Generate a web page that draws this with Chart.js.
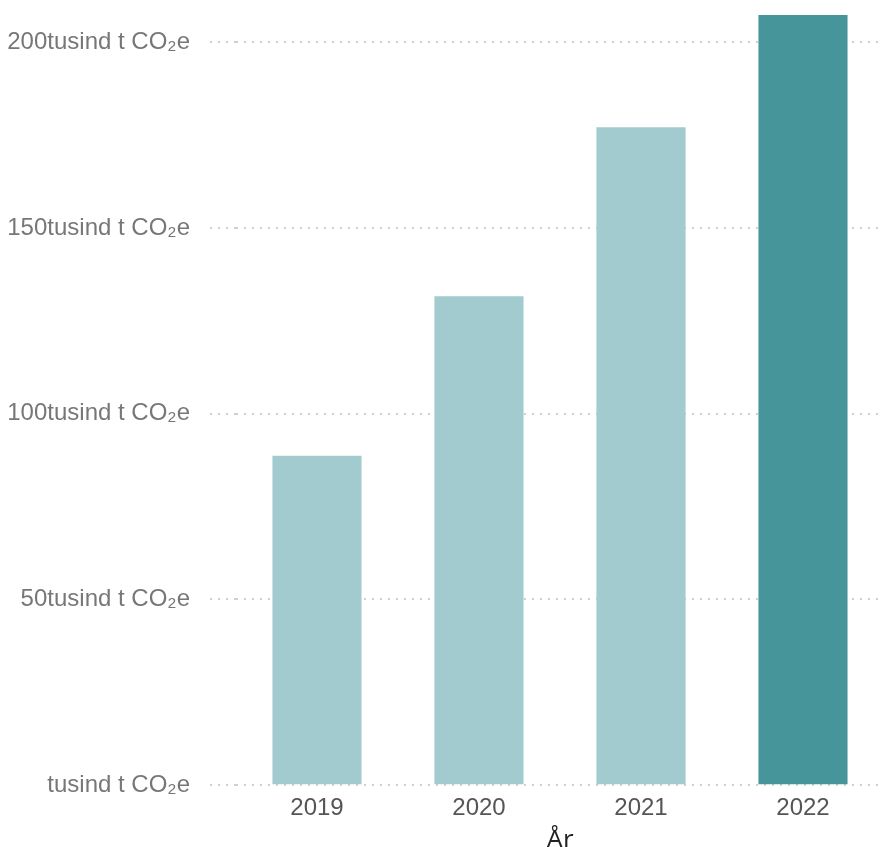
<!DOCTYPE html>
<html>
<head>
<meta charset="utf-8">
<script src="https://cdn.jsdelivr.net/npm/chart.js@4"></script>
<style>
  html, body { margin: 0; padding: 0; background: #fff; overflow: hidden; }
  #wrap { width: 884px; height: 850px; position: relative; }
</style>
</head>
<body>
<div id="wrap"><canvas id="chart"></canvas></div>
<script>
const years = ['2019', '2020', '2021', '2022'];
const emissions = [88.7, 131.6, 177.1, 207.3];
const yTicks = [0, 50, 100, 150, 200];
const unit = 'tusind t CO₂e';
const xTitle = 'År';

const LIGHT = '#a1cbce';
const DARK = '#45959a';
const GRID = '#cfcfcf';

new Chart(document.getElementById('chart'), {
  type: 'bar',
  data: {
    labels: years,
    datasets: [{
      data: emissions,
      backgroundColor: years.map((y, i) => i === years.length - 1 ? DARK : LIGHT),
      borderWidth: 0,
      categoryPercentage: 1,
      barPercentage: 0.55,
    }]
  },
  options: {
    responsive: true, maintainAspectRatio: false,
    animation: false,
    layout: { padding: { top: 5, right: 0, left: 0, bottom: 0 } },
    plugins: { legend: { display: false }, tooltip: { enabled: false } },
    scales: {
      y: {
        min: 0, max: 210,
        afterBuildTicks: s => { s.ticks = yTicks.map(v => ({ value: v })); },
        afterFit: s => { s.width = 236; s.paddingTop = 0; s.paddingBottom = 0; },
        border: { display: false, dash: [2, 6] },
        grid: {
          color: GRID, lineWidth: 2,
          tickLength: 26, tickColor: GRID, tickWidth: 2, tickBorderDash: [2, 6],
        },
        ticks: {
          padding: 20,
          color: '#777777',
          font: { family: 'Liberation Sans, Arial, sans-serif', size: 24 },
          callback: v => (v === 0 ? '' : v) + unit,
        }
      },
      x: {
        border: { display: false },
        grid: { display: false, drawTicks: false },
        ticks: {
          padding: 9,
          color: '#555555',
          font: { family: 'Liberation Sans, Arial, sans-serif', size: 24 },
        },
        title: {
          display: true, text: xTitle,
          color: '#222222',
          padding: { top: -4, bottom: -4 },
          font: { family: 'Open Sans, sans-serif', size: 26, lineHeight: 1 },
        }
      }
    }
  }
});
</script>
</body>
</html>
